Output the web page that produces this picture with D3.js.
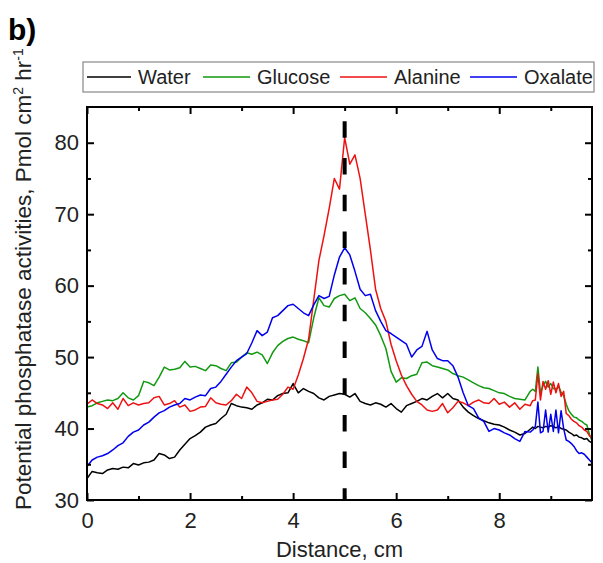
<!DOCTYPE html>
<html>
<head>
<meta charset="utf-8">
<script src="https://cdn.jsdelivr.net/npm/d3@7"></script>
<style>
  html, body { margin: 0; padding: 0; background: #fff; }
  svg { display: block; font-family: "Liberation Sans", Arial, sans-serif; }
</style>
</head>
<body>
<svg id="chart" width="603" height="563"></svg>
<script>
// ---------- DATA ----------
const distance = [
  0.0,0.1,0.2,0.3,0.4,0.5,0.6,0.7,0.8,0.9,
  1.0,1.1,1.2,1.3,1.4,1.5,1.6,1.7,1.8,1.9,
  2.0,2.1,2.2,2.3,2.4,2.5,2.6,2.7,2.8,2.9,
  3.0,3.1,3.2,3.3,3.4,3.5,3.6,3.7,3.8,3.9,
  4.0,4.1,4.2,4.3,4.4,4.5,4.6,4.7,4.8,4.9,
  5.0,5.1,5.2,5.3,5.4,5.5,5.6,5.7,5.8,5.9,
  6.0,6.1,6.2,6.3,6.4,6.5,6.6,6.7,6.8,6.9,
  7.0,7.1,7.2,7.3,7.4,7.5,7.6,7.7,7.8,7.9,
  8.0,8.1,8.2,8.3,8.4,8.5,8.6,8.65,8.7,8.75,
  8.8,8.85,8.9,8.95,9.0,9.05,9.1,9.15,9.2,9.25,
  9.3,9.35,9.4,9.45,9.5,9.55,9.6,9.65,9.7,9.75,9.8
];
const water = [
  33.0,34.0,33.8,33.7,34.2,34.4,34.3,34.6,34.5,35.1,
  34.9,35.2,35.3,35.6,36.5,36.3,35.8,36.0,37.0,37.8,
  38.6,39.0,39.5,40.2,40.5,40.7,41.4,42.0,43.5,43.2,
  43.0,42.9,42.7,43.3,43.6,44.1,44.0,44.6,44.9,45.0,
  46.3,45.0,45.6,45.2,44.9,44.3,44.0,44.5,44.7,44.9,
  44.8,44.4,44.9,43.8,43.5,43.3,43.6,43.4,43.0,43.5,
  42.8,42.3,43.2,43.5,43.8,44.2,44.0,44.5,44.9,44.3,
  44.9,44.2,44.0,43.0,42.3,41.8,41.4,41.1,40.8,40.6,
  40.5,40.2,39.8,39.5,39.1,39.3,39.9,40.2,40.0,40.3,
  40.2,40.1,40.3,40.2,40.4,40.3,40.1,40.3,40.0,39.9,
  39.8,39.5,39.3,39.0,39.1,38.8,38.7,38.5,38.6,38.2,38.0
];
const glucose = [
  43.0,43.2,43.6,43.8,44.0,43.9,44.2,45.0,44.3,44.0,
  44.6,46.6,46.4,46.0,47.2,48.6,48.2,48.3,48.5,49.4,
  48.6,48.7,48.4,48.1,48.9,48.8,48.4,48.1,49.2,49.3,
  50.0,50.6,50.4,50.7,50.3,49.1,50.6,51.6,52.2,52.6,
  52.8,52.5,52.3,52.0,55.5,58.3,57.2,57.0,58.2,58.6,
  58.8,57.9,58.3,56.8,56.2,55.4,54.5,53.0,51.2,48.0,
  46.5,47.1,47.0,47.4,47.6,49.2,49.3,48.8,48.6,48.4,
  48.2,47.7,47.4,47.2,46.8,46.4,46.0,45.7,45.6,45.3,
  45.0,44.9,44.5,44.2,44.1,44.0,45.2,45.5,45.2,48.6,
  45.0,46.0,46.6,45.8,46.3,45.6,45.5,45.9,45.1,44.6,
  43.4,42.5,42.0,41.6,41.5,41.2,41.0,40.7,40.5,39.2,38.3
];
const alanine = [
  43.4,44.0,43.5,43.3,42.8,43.6,42.7,44.2,43.2,43.6,
  43.3,43.5,43.6,44.3,44.5,43.3,43.5,43.9,43.0,43.3,
  42.4,42.6,43.0,43.1,44.3,43.6,43.4,43.3,43.9,44.8,
  44.2,45.8,45.0,43.8,43.6,43.8,44.0,44.1,44.8,45.8,
  45.5,47.5,49.8,52.5,58.0,63.5,67.0,70.8,75.0,73.5,
  80.7,77.0,78.3,75.0,70.0,65.0,59.5,56.8,55.0,51.8,
  49.5,47.5,46.0,44.8,43.8,43.3,42.6,42.4,42.6,43.5,
  42.2,42.9,43.8,43.6,43.2,43.7,44.0,43.6,43.5,44.2,
  43.4,43.7,43.0,43.6,42.7,43.4,43.2,43.9,44.0,47.7,
  44.0,46.6,45.5,46.7,44.8,46.5,45.0,46.3,44.5,45.2,
  42.1,41.8,41.3,41.0,40.8,40.4,40.2,39.8,39.6,39.0,38.7
];
const oxalate = [
  34.7,35.6,36.0,36.2,36.5,37.0,37.6,38.0,38.9,39.5,
  39.8,40.5,40.9,41.6,42.2,42.5,43.0,43.3,43.5,44.2,
  44.0,44.4,44.7,44.6,45.6,45.8,46.6,47.6,48.6,49.5,
  50.0,50.5,52.0,53.7,53.0,53.5,55.5,55.8,56.5,57.2,
  57.4,56.8,56.2,55.8,57.3,58.6,58.2,58.5,61.5,64.0,
  65.3,64.3,62.0,59.5,58.6,58.8,56.5,55.0,53.7,53.3,
  52.8,52.3,51.8,50.0,51.0,51.5,53.6,51.0,49.8,49.5,
  49.5,48.8,47.2,45.0,43.2,42.8,41.5,41.0,39.6,40.0,
  39.8,39.4,39.1,38.6,38.2,39.6,39.5,39.8,40.3,43.7,
  39.4,39.6,42.6,39.5,42.0,39.6,42.6,39.4,42.5,40.0,
  38.4,38.2,37.9,37.5,36.9,36.5,36.6,36.4,36.0,35.6,35.2
];
const seriesNames = ["Water", "Glucose", "Alanine", "Oxalate"];
const seriesValues = [water, glucose, alanine, oxalate];
const seriesColors = ["#000000", "#119911", "#ee1111", "#0000ee"];
const xMajorTicks = [0, 2, 4, 6, 8];
const xMinorTicks = [1, 3, 5, 7, 9];
const yMajorTicks = [30, 40, 50, 60, 70, 80];
const yMinorTicks = [35, 45, 55, 65, 75];
const markerX = 5;

// ---------- LAYOUT ----------
const svg = d3.select("#chart");
const L = 87, R = 592, T = 107, B = 500;
const x = d3.scaleLinear().domain([0, 9.8]).range([L, R]);
const y = d3.scaleLinear().domain([30, 85]).range([B, T]);

// panel label
svg.append("text").attr("x", 8).attr("y", 40)
  .attr("font-size", 30).attr("font-weight", "bold").text("b)");

// clip
svg.append("clipPath").attr("id", "clip")
  .append("rect").attr("x", L).attr("y", T).attr("width", R - L).attr("height", B - T);

// lines
const line = d3.line().x((d, i) => x(distance[i])).y(d => y(d));
const g = svg.append("g").attr("clip-path", "url(#clip)");
seriesValues.forEach((vals, k) => {
  g.append("path").datum(vals)
    .attr("d", line)
    .attr("fill", "none")
    .attr("stroke", seriesColors[k])
    .attr("stroke-width", 1.5)
    .attr("stroke-linejoin", "round");
});

// dashed marker line
svg.append("line")
  .attr("x1", x(markerX)).attr("x2", x(markerX))
  .attr("y1", y(83.0)).attr("y2", y(30))
  .attr("stroke", "#000").attr("stroke-width", 4)
  .attr("stroke-dasharray", "16.5,20.2");

// axes
function styleAxis(sel) {
  sel.select(".domain").remove();
  sel.selectAll(".tick line").attr("stroke", "#000").attr("stroke-width", 2);
  sel.selectAll(".tick text").attr("font-size", 22).attr("fill", "#222")
    .attr("font-family", "Liberation Sans, Arial, sans-serif");
}
const major = 7, minor = 4;
svg.append("g").attr("transform", `translate(0,${B})`)
  .call(d3.axisBottom(x).tickValues(xMajorTicks).tickSize(-major).tickPadding(12).tickFormat(d3.format("d")))
  .call(styleAxis);
svg.append("g").attr("transform", `translate(0,${B})`)
  .call(d3.axisBottom(x).tickValues(xMinorTicks).tickSize(-minor).tickFormat(""))
  .call(styleAxis);
svg.append("g").attr("transform", `translate(0,${T})`)
  .call(d3.axisTop(x).tickValues(xMajorTicks).tickSize(-major).tickFormat(""))
  .call(styleAxis);
svg.append("g").attr("transform", `translate(0,${T})`)
  .call(d3.axisTop(x).tickValues(xMinorTicks).tickSize(-minor).tickFormat(""))
  .call(styleAxis);
svg.append("g").attr("transform", `translate(${L},0)`)
  .call(d3.axisLeft(y).tickValues(yMajorTicks).tickSize(-major).tickPadding(8).tickFormat(d3.format("d")))
  .call(styleAxis);
svg.append("g").attr("transform", `translate(${L},0)`)
  .call(d3.axisLeft(y).tickValues(yMinorTicks).tickSize(-minor).tickFormat(""))
  .call(styleAxis);
svg.append("g").attr("transform", `translate(${R},0)`)
  .call(d3.axisRight(y).tickValues(yMajorTicks).tickSize(-major).tickFormat(""))
  .call(styleAxis);
svg.append("g").attr("transform", `translate(${R},0)`)
  .call(d3.axisRight(y).tickValues(yMinorTicks).tickSize(-minor).tickFormat(""))
  .call(styleAxis);

// frame
svg.append("rect").attr("x", L).attr("y", T).attr("width", R - L).attr("height", B - T)
  .attr("fill", "none").attr("stroke", "#000").attr("stroke-width", 2);

// axis titles
svg.append("text").attr("x", (L + R) / 2).attr("y", 557)
  .attr("text-anchor", "middle").attr("font-size", 22).attr("fill", "#222")
  .text("Distance, cm");
const yt = svg.append("text")
  .attr("transform", "translate(31,510) rotate(-90)")
  .attr("text-anchor", "start").attr("font-size", 22.5).attr("fill", "#222");
yt.append("tspan").text("Potential phosphatase activities, Pmol cm");
yt.append("tspan").attr("dy", -8).attr("font-size", 14).text("2");
yt.append("tspan").attr("dy", 8).text(" hr");
yt.append("tspan").attr("dy", -8).attr("font-size", 14).text("-1");

// legend
const lg = svg.append("g");
lg.append("rect").attr("x", 83).attr("y", 62).attr("width", 511).attr("height", 30)
  .attr("fill", "#fff").attr("stroke", "#888").attr("stroke-width", 1.2);
const legendLineX = [87, 203, 340, 470];
const legendLineW = [44, 47, 47, 47];
seriesNames.forEach((name, k) => {
  lg.append("line")
    .attr("x1", legendLineX[k]).attr("x2", legendLineX[k] + legendLineW[k])
    .attr("y1", 77).attr("y2", 77)
    .attr("stroke", seriesColors[k]).attr("stroke-width", 1.5);
  lg.append("text")
    .attr("x", legendLineX[k] + legendLineW[k] + 7).attr("y", 84)
    .attr("font-size", 20).attr("fill", "#222").text(name);
});
</script>
</body>
</html>
